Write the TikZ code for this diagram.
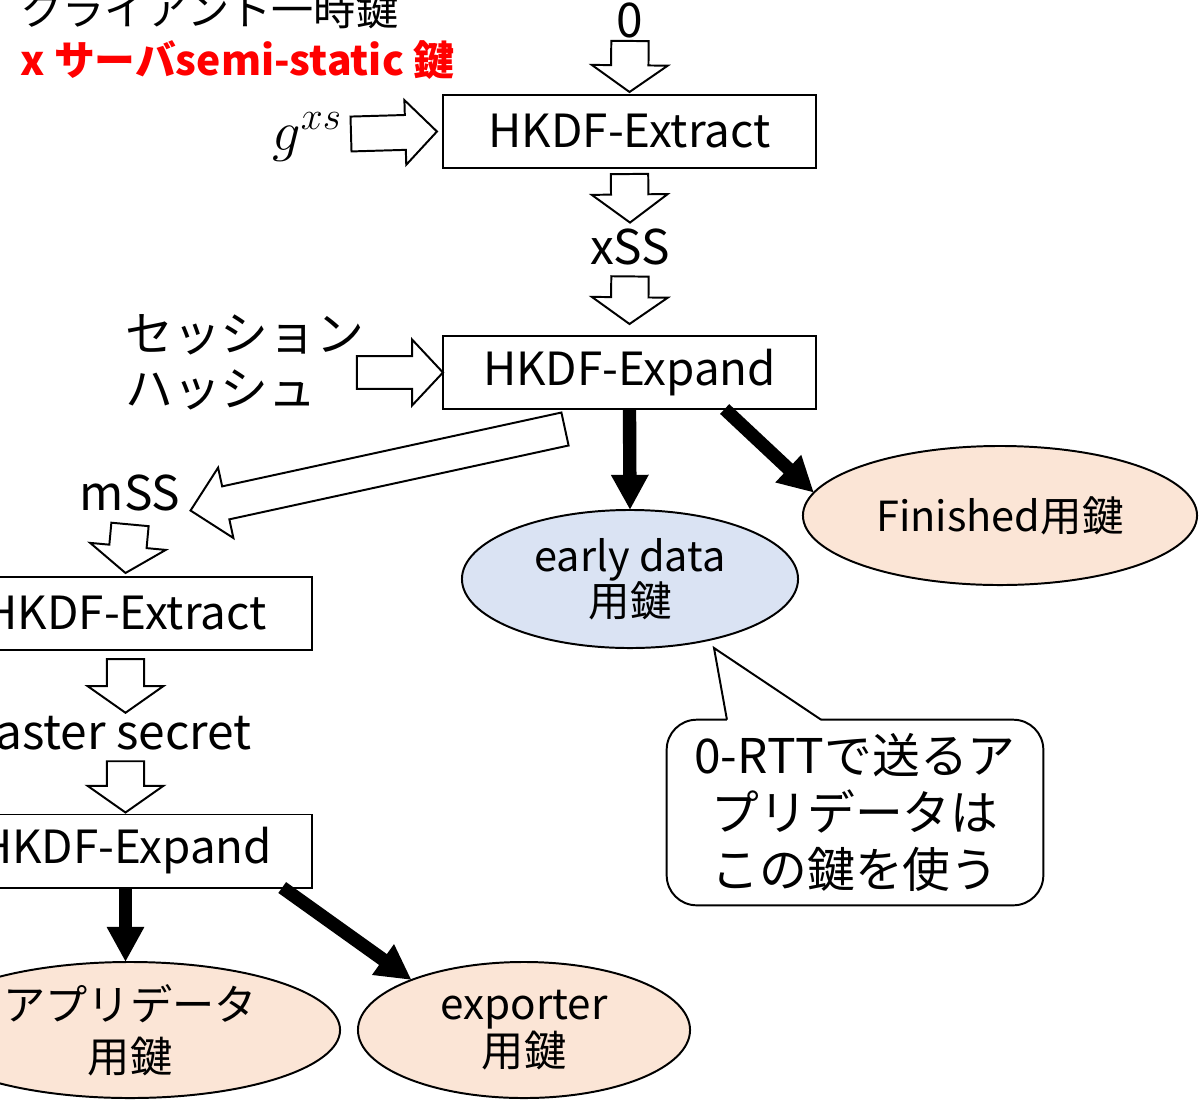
\RequirePackage{fix-cm}
\documentclass[tikz,border=0pt]{standalone}
\usepackage{fontspec}
\setmainfont{Noto Sans CJK JP}
\usetikzlibrary{positioning,calc,shapes.geometric,arrows.meta}

\definecolor{keypeach}{HTML}{FBE5D6}
\definecolor{keyblue}{HTML}{DAE3F3}

\tikzset{
	blockshaft/.store in=\blockshaft, blockhead/.store in=\blockhead, blocklen/.store in=\blocklen,
	blockshaft=13.3pt, blockhead=27pt, blocklen=19pt,
	hollow/.style={draw=black, fill=white, line width=1.4pt, line join=miter,
		to path={let \p1=(\tikztostart), \p2=(\tikztotarget),
			\n1={atan2(\y2-\y1,\x2-\x1)}, \n2={veclen(\x2-\x1,\y2-\y1)-\blocklen} in
			($(\p1)+(\n1+90:\blockshaft)$) -- ($(\p1)+(\n1:\n2)+(\n1+90:\blockshaft)$)
			-- ($(\p1)+(\n1:\n2)+(\n1+90:\blockhead)$) -- (\p2)
			-- ($(\p1)+(\n1:\n2)+(\n1-90:\blockhead)$) -- ($(\p1)+(\n1:\n2)+(\n1-90:\blockshaft)$)
			-- ($(\p1)+(\n1-90:\blockshaft)$) -- cycle}}
}

\begin{document}
\begin{tikzpicture}[x=0.025cm, y=-0.025cm,
						kdf/.style={rectangle, draw=black, line width=1.4pt, outer sep=0pt, minimum width=9.325cm, minimum height=1.825cm, font=\fontsize{32.5}{40}\selectfont},
						keynode/.style={ellipse, draw=black, line width=1.4pt, inner sep=0pt, outer sep=0pt, align=center},
						txt/.style={inner sep=0pt, font=\fontsize{34}{40}\selectfont},
						keyarrow/.style={line width=9.5pt, -{Triangle[length=25pt, width=25pt]}}
					]
					\useasboundingbox (0,0) rectangle (1203,1100);
					\clip (0,0) rectangle (1203,1100);
					\node[txt, anchor=base west, font=\fontsize{30}{36}\selectfont] (ckey) at (20,25) {クライアント一時鍵};
					\node[txt, anchor=base west, text=red, font=\fontsize{29}{36}\selectfont\bfseries] (skey) at (20,75) {x サーバsemi-static 鍵};
					\node[txt] (zero) at (630,20) {0};
					\node[kdf] (ext1) at (629.5,131.5) {HKDF-Extract};
					\node[txt, anchor=east, font=\fontsize{40}{44}\selectfont] (gxs) at (342,137) {$g^{xs}$};
					\node[txt] (xss) at (630,247) {xSS};
					\node[kdf] (exp1) at (629.5,372.5) {HKDF-Expand};
					\node[txt, anchor=west, align=left, font=\fontsize{34}{39}\selectfont] (sess) at (125,362) {セッション\\ハッシュ};
					\node[keynode, fill=keypeach, minimum width=9.85cm, minimum height=3.475cm, font=\fontsize{29.5}{32}\selectfont] (fin) at (1000,515.5) {Finished用鍵};
					\node[keynode, fill=keyblue, minimum width=8.4cm, minimum height=3.45cm, font=\fontsize{29.5}{32}\selectfont] (early) at (630,579) {early data\\用鍵};
					\node[txt, minimum width=9.4cm, minimum height=4.625cm, align=center, font=\fontsize{34}{40.5}\selectfont] (note) at (855,812.5) {0-RTTで送るア\\プリデータは\\この鍵を使う};
					\coordinate (tip) at (714,648);
					\node[txt] (mss) at (130,493) {mSS};
					\coordinate (mtail) at (565,429);
					\node[kdf] (ext2) at (125.5,613.5) {HKDF-Extract};
					\node[txt, anchor=east] (master) at (252,733) {master secret};
					\node[kdf] (exp2) at (125.5,851) {HKDF-Expand};
					\node[keynode, fill=keypeach, minimum width=10.5cm, minimum height=3.4cm, font=\fontsize{30}{37}\selectfont] (app) at (130,1030) {アプリデータ\\用鍵};
					\node[keynode, fill=keypeach, minimum width=8.3cm, minimum height=3.4cm, font=\fontsize{30}{32}\selectfont] (expo) at (524,1030) {exporter\\用鍵};
					\draw[hollow] ($(zero.south)+(0,3)$) to ($(ext1.north)+(0,-3)$);
					\draw[hollow, blocklen=20pt] ($(ext1.south)+(0,6)$) to ($(xss.north)+(0,-6)$);
					\draw[hollow] ($(xss.south)+(0,11)$) to ($(exp1.north)+(0,-12)$);
					\draw[hollow, blockshaft=12.4pt, blockhead=23pt, blocklen=22.5pt] ($(gxs.east)+(9,-3)$) to ($(ext1.west)+(-6,0)$);
					\draw[hollow, blockshaft=11.7pt, blockhead=23.5pt, blocklen=22pt] ($(exp1.west)+(-86,0)$) to (exp1.west);
					\draw[hollow, blockshaft=12pt, blockhead=25.6pt, blocklen=25.6pt] (mtail) to ($(mss.base east)+(10,0)$);
					\draw[hollow] ($(mss.south)+(0,13)$) to ($(ext2.north)+(0,-4)$);
					\draw[hollow] ($(ext2.south)+(0,9)$) to ($(master.north -| ext2.south)+(0,-3)$);
					\draw[hollow] ($(master.south -| ext2.south)+(0,11)$) to ($(exp2.north)+(0,-2)$);
					\draw[keyarrow] (exp1.south) -- (early.north);
					\draw[keyarrow] ($(exp1.south)!0.51!(exp1.south east)$) -- (fin.173);
					\draw[keyarrow] (exp2.south) -- (exp2.south |- app.north);
					\draw[keyarrow] ($(exp2.south)!0.84!(exp2.south east)$) -- (expo.156);
					\draw[line width=1.4pt, rounded corners=0.75cm] ($(note.north west)!0.41!(note.north east)$) -- (note.north east) -- (note.south east) -- (note.south west) -- (note.north west) -- ($(note.north west)!0.16!(note.north east)$);
					\draw[line width=1.4pt, line join=miter] ($(note.north west)!0.16!(note.north east)$) -- (tip) -- ($(note.north west)!0.41!(note.north east)$);
					\end{tikzpicture}
\end{document}
